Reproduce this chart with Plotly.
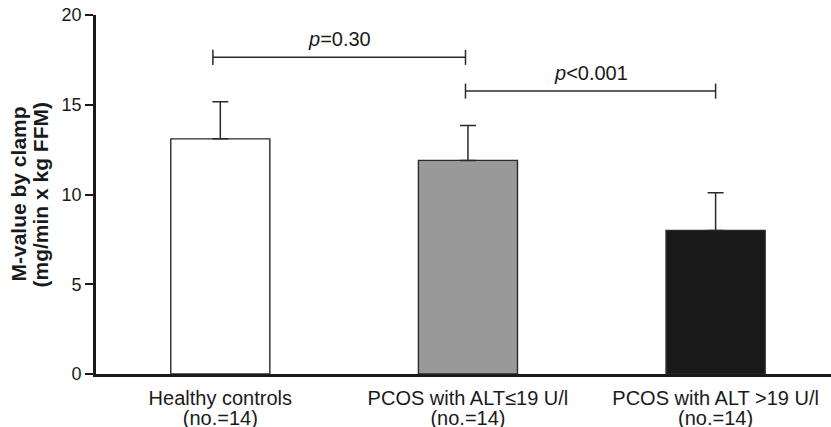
import plotly.graph_objects as go

group_names = ["Healthy controls", "PCOS with ALT≤19 U/l", "PCOS with ALT >19 U/l"]
group_sizes = ["(no.=14)", "(no.=14)", "(no.=14)"]
m_values = [13.1, 11.9, 8.0]
sd_values = [2.07, 1.95, 2.1]
bar_colors = ["#ffffff", "#999999", "#191919"]
y_ticks = [0, 5, 10, 15, 20]
y_title_lines = ["M-value by clamp", "(mg/min x kg FFM)"]

# significance brackets
bracket_x0 = [-0.03, 0.99]
bracket_x1 = [0.99, 2.0]
bracket_y = [17.64, 15.76]
bracket_labels = ["<i>p</i>=0.30", "<i>p</i><0.001"]

xpos = list(range(len(group_names)))
FONT = "Liberation Sans, Arial, Helvetica, sans-serif"
INK = "#1a1a1a"

fig = go.Figure()
fig.add_trace(go.Bar(
    x=xpos, y=m_values, width=0.4,
    marker=dict(color=bar_colors, line=dict(color="#2a2a2a", width=1.4)),
    error_y=dict(type="data", symmetric=False, array=sd_values,
                 arrayminus=[0] * len(sd_values),
                 color="#2a2a2a", thickness=1.5, width=8),
    showlegend=False,
))
# invisible trace to activate second x axis (second tick-label line)
fig.add_trace(go.Scatter(x=xpos, y=m_values, xaxis="x2", mode="markers",
                         marker=dict(opacity=0), hoverinfo="skip", showlegend=False))

shapes = []
annotations = []
tick_h = 0.42
for x0, x1, y, lab in zip(bracket_x0, bracket_x1, bracket_y, bracket_labels):
    line = dict(color="#2a2a2a", width=1.5)
    shapes.append(dict(type="line", xref="x", yref="y", x0=x0, x1=x1, y0=y, y1=y, line=line))
    shapes.append(dict(type="line", xref="x", yref="y", x0=x0, x1=x0, y0=y - tick_h, y1=y + tick_h, line=line))
    shapes.append(dict(type="line", xref="x", yref="y", x0=x1, x1=x1, y0=y - tick_h, y1=y + tick_h, line=line))
    annotations.append(dict(xref="x", yref="y", x=(x0 + x1) / 2, y=y + 0.3, text=lab,
                            showarrow=False, yanchor="bottom", xanchor="center",
                            font=dict(family=FONT, size=20, color=INK)))

for shift, txt in zip([-78, -56], y_title_lines):
    annotations.append(dict(xref="paper", yref="paper", x=0, y=0.5, xshift=shift,
                            text="<b>%s</b>" % txt, textangle=-90, showarrow=False,
                            xanchor="center", yanchor="middle",
                            font=dict(family=FONT, size=21, color=INK)))

fig.update_layout(
    width=831, height=427,
    margin=dict(l=96, r=0, t=15, b=53),
    paper_bgcolor="white", plot_bgcolor="white",
    font=dict(family=FONT, size=18, color=INK),
    shapes=shapes, annotations=annotations,
    xaxis=dict(range=[-0.502, 2.466], tickvals=xpos, ticktext=group_names,
               showline=True, linecolor=INK, linewidth=2.7,
               ticks="", showgrid=False, zeroline=False, automargin=False,
               tickfont=dict(size=20), ticklabelstandoff=4, ticklabeloverflow="allow"),
    xaxis2=dict(matches="x", overlaying="x", anchor="y", side="bottom",
                tickvals=xpos, ticktext=group_sizes, showline=False, ticks="",
                showgrid=False, zeroline=False, automargin=False,
                tickfont=dict(size=20), ticklabelstandoff=30, ticklabeloverflow="allow"),
    yaxis=dict(range=[0, 20], tickvals=y_ticks, showline=True, linecolor=INK,
               linewidth=2.7, ticks="outside", ticklen=8, tickwidth=2, tickcolor=INK,
               showgrid=False, zeroline=False, tickfont=dict(size=18), automargin=False,
               ticklabeloverflow="allow"),
)

fig.write_html("out.html", config={"displayModeBar": False},
               post_script="document.body.style.margin='0';document.body.style.overflow='hidden';")
